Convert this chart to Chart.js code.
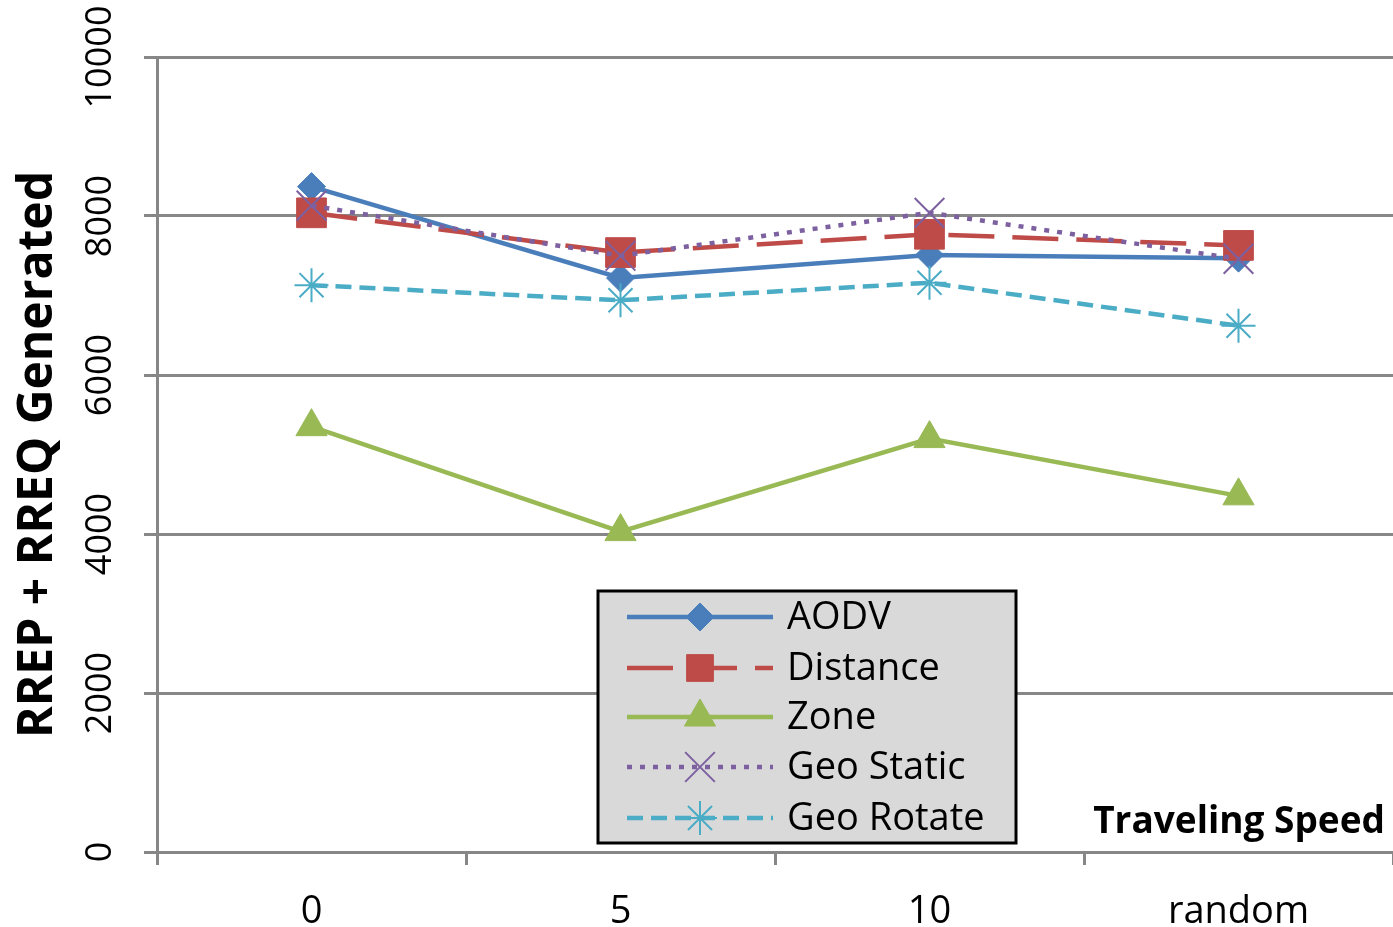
<!DOCTYPE html>
<html>
<head>
<meta charset="utf-8">
<script src="https://cdn.jsdelivr.net/npm/chart.js@4/dist/chart.umd.min.js"></script>
<style>
  html, body { margin: 0; padding: 0; background: #ffffff; }
  canvas { display: block; }
</style>
</head>
<body>
<canvas id="chart" width="1393" height="927"></canvas>
<script>
// Traveling speed categories
const speeds = ['0', '5', '10', 'random'];

// RREP + RREQ packets generated per protocol
const aodv      = [8370, 7220, 7510, 7470];
const distance  = [8040, 7540, 7770, 7630];
const zone      = [5350, 4030, 5200, 4480];
const geoStatic = [8130, 7500, 8040, 7460];
const geoRotate = [7130, 6940, 7160, 6620];

// Y axis tick values
const yTickValues = [0, 2000, 4000, 6000, 8000, 10000];

const FONT = "'Open Sans', 'Noto Sans', sans-serif";
const GRID = '#878787';

Chart.defaults.font.family = FONT;
Chart.defaults.color = '#000000';

const seriesStyles = [
  { label: 'AODV',       data: aodv,      color: '#4a7ebb', dash: [],       pointStyle: 'rectRot',  radius: 14, pbw: 1, fill: true },
  { label: 'Distance',   data: distance,  color: '#be4b48', dash: [46, 18], pointStyle: 'rect',     radius: 21, pbw: 1, fill: true },
  { label: 'Zone',       data: zone,      color: '#98b954', dash: [],       pointStyle: 'triangle', radius: 18, pbw: 1, fill: true },
  { label: 'Geo Static', data: geoStatic, color: '#7d60a0', dash: [5, 8],   pointStyle: 'crossRot', radius: 21, pbw: 2, fill: false },
  { label: 'Geo Rotate', data: geoRotate, color: '#4bacc6', dash: [16, 8],  pointStyle: 'star',     radius: 17, pbw: 2, fill: false }
];

const datasets = seriesStyles.map((s, i) => ({
  label: s.label,
  data: s.data,
  borderColor: s.color,
  backgroundColor: s.color,
  borderWidth: 4.5,
  borderDash: s.dash,
  borderCapStyle: 'butt',
  tension: 0,
  fill: false,
  pointStyle: s.pointStyle,
  pointRadius: s.radius,
  pointHoverRadius: s.radius,
  pointBorderWidth: s.pbw,
  pointBorderColor: s.color,
  pointBackgroundColor: s.fill ? s.color : 'transparent',
  order: seriesStyles.length - i
}));

// Boxed legend inside the plot plus the in-plot axis caption
const insideLegend = {
  id: 'insideLegend',
  afterDraw(chart) {
    const { ctx, chartArea } = chart;
    const bx = chartArea.left + 441, by = chartArea.top + 534;
    const bw = 418, bh = 252;
    ctx.save();
    ctx.fillStyle = '#d9d9d9';
    ctx.fillRect(bx, by, bw, bh);
    ctx.lineWidth = 3;
    ctx.strokeStyle = '#000000';
    ctx.strokeRect(bx, by, bw, bh);

    const rowY = [26, 77, 126, 176, 227];
    const x0 = bx + 29, x1 = bx + 175, xm = (x0 + x1) / 2;
    seriesStyles.forEach((s, i) => {
      const y = by + rowY[i];
      ctx.save();
      ctx.strokeStyle = s.color;
      ctx.lineWidth = 4.5;
      ctx.lineCap = 'butt';
      ctx.setLineDash(s.dash);
      ctx.beginPath();
      ctx.moveTo(x0, y);
      ctx.lineTo(x1, y);
      ctx.stroke();
      ctx.setLineDash([]);
      ctx.fillStyle = s.color;
      ctx.strokeStyle = s.color;
      ctx.lineWidth = s.pbw;
      Chart.helpers.drawPoint(ctx, {
        pointStyle: s.pointStyle,
        radius: s.pointStyle === 'rect' ? s.radius * 0.9 : s.radius,
        rotation: 0,
        borderWidth: s.pbw
      }, xm, y);
      ctx.restore();

      ctx.fillStyle = '#000000';
      ctx.font = '38px ' + FONT;
      ctx.textBaseline = 'alphabetic';
      ctx.textAlign = 'left';
      ctx.fillText(s.label, bx + 189, y + 12);
    });

    ctx.fillStyle = '#000000';
    ctx.font = 'bold 37px ' + FONT;
    ctx.textAlign = 'right';
    ctx.textBaseline = 'alphabetic';
    ctx.fillText('Traveling Speed', chartArea.right - 8, chartArea.bottom - 19);
    ctx.restore();
  }
};

new Chart(document.getElementById('chart'), {
  type: 'line',
  data: { labels: speeds, datasets },
  plugins: [insideLegend],
  options: {
    responsive: false,
    animation: false,
    devicePixelRatio: 1,
    layout: { autoPadding: false, padding: { top: 57, right: 0, bottom: 0, left: 0 } },
    plugins: {
      legend: { display: false },
      tooltip: { enabled: false }
    },
    scales: {
      x: {
        type: 'category',
        offset: true,
        grid: { display: true, offset: true, drawOnChartArea: false, drawTicks: true, tickLength: 13, color: GRID, lineWidth: 3 },
        border: { display: true, color: GRID, width: 3 },
        ticks: { color: '#000000', font: { size: 38 }, padding: 24, minRotation: 0, maxRotation: 0 },
        afterFit(scale) {
          scale.height = 75;
          scale.paddingLeft = 0;
          scale.paddingRight = 0;
        }
      },
      y: {
        min: 0,
        max: 10000,
        afterBuildTicks(scale) { scale.ticks = yTickValues.map(v => ({ value: v })); },
        grid: { color: GRID, lineWidth: 3, tickLength: 13, drawTicks: true },
        border: { display: true, color: GRID, width: 3 },
        ticks: {
          color: '#000000',
          font: { size: 36 },
          minRotation: 90,
          maxRotation: 90,
          crossAlign: 'center',
          padding: -8,
          callback: (value) => String(value)
        },
        title: {
          display: true,
          text: 'RREP + RREQ Generated',
          color: '#000000',
          font: { size: 48, weight: 'bold' },
          padding: { top: 10, bottom: 0 }
        },
        afterFit(scale) { scale.width = 157; }
      }
    }
  }
});
</script>
</body>
</html>
